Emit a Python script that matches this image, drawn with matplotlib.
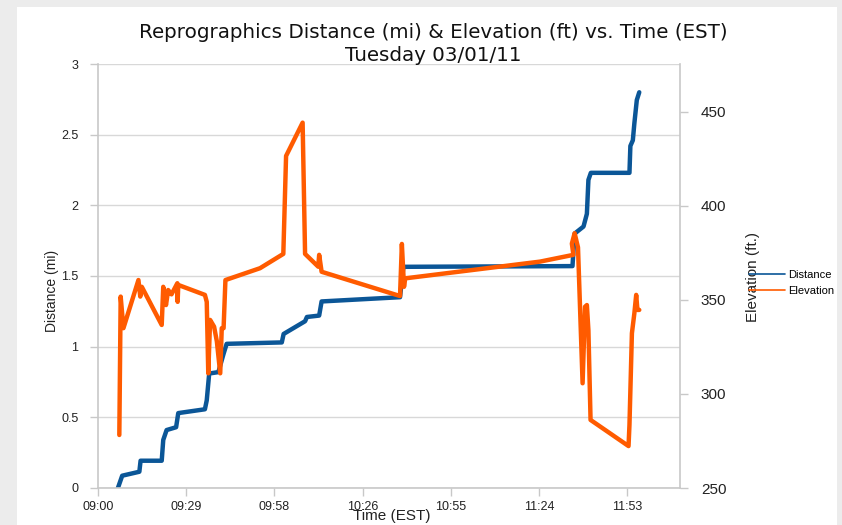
import matplotlib
matplotlib.use("Agg")
import matplotlib.pyplot as plt
from matplotlib.patches import Rectangle

plt.rcParams["font.family"] = ["Liberation Sans", "DejaVu Sans"]

# minutes after 09:00
dist_t = [6.5, 7.9, 13.5, 13.9, 20.8, 21.3, 22.4, 25.5, 26.2, 34.9, 35.5, 36.3, 39.3,
          41.0, 42.0, 60.0, 60.6, 67.6, 68.2, 72.2, 73.0, 98.6, 99.7, 154.9, 155.6,
          158.5, 159.6, 160.1, 160.9, 173.5, 173.8, 174.6, 175.1, 175.9, 176.7]
dist_mi = [0.0, 0.087, 0.115, 0.193, 0.193, 0.34, 0.41, 0.43, 0.53, 0.557, 0.62, 0.81, 0.82,
           0.95, 1.02, 1.03, 1.09, 1.18, 1.21, 1.22, 1.32, 1.35, 1.565, 1.57, 1.80,
           1.85, 1.94, 2.18, 2.23, 2.23, 2.42, 2.46, 2.58, 2.745, 2.80]

elev_t = [6.96, 7.4, 8.3, 13.2, 13.8, 14.3, 20.8, 21.3, 22.2, 22.9, 24.0, 25.9, 26.0, 26.2,
          34.9, 35.5, 36.0, 36.6, 37.9, 38.8, 39.9, 40.4, 41.0, 41.6, 52.9, 60.5, 61.4, 66.8,
          67.6, 71.9, 72.2, 73.0, 98.6, 99.2, 99.9, 100.3, 144.3, 155.2, 154.7, 155.6,
          156.4, 156.7, 158.2, 159.0, 159.6, 160.1, 160.8, 173.2, 173.5, 174.3, 175.1,
          175.7, 176.1, 176.7]
elev_ft = [278.2, 351.8, 335.0, 360.6, 351.8, 357.0, 336.7, 357.0, 347.3, 355.3, 353.0,
           358.9, 349.0, 358.0, 352.7, 349.0, 311.0, 339.4, 335.8, 328.0, 311.0, 335.0,
           335.0, 360.6, 366.9, 374.5, 426.6, 444.3, 374.5, 367.7, 374.0, 365.0, 352.1,
           379.8, 357.0, 361.5, 370.4, 374.0, 380.0, 385.5, 380.0, 378.0, 305.7, 346.4,
           347.3, 333.9, 286.2, 272.3, 283.5, 332.3, 342.9, 352.7, 344.7, 344.7]

tick_pos = [0, 28.8, 57.6, 86.4, 115.2, 144.0, 172.8]
tick_labels = ["09:00", "09:29", "09:58", "10:26", "10:55", "11:24", "11:53"]

BLUE = "#0B5697"
ORANGE = "#FF5B00"
GRID = "#d8d8d8"

W, H = 842, 525
fig = plt.figure(figsize=(W / 100, H / 100), dpi=100, facecolor="#ececec")
fig.patches.append(Rectangle((17 / W, 0), (837 - 17) / W, (H - 7) / H,
                             transform=fig.transFigure, facecolor="white",
                             edgecolor="none", zorder=-10))

ax = fig.add_axes([98 / W, 1 - 488 / H, (680 - 98) / W, (488 - 64) / H])
ax.patch.set_alpha(0)
ax2 = ax.twinx()

ax.plot(dist_t, dist_mi, color=BLUE, lw=3.2, solid_capstyle="round", label="Distance")
ax2.plot(elev_t, elev_ft, color=ORANGE, lw=3.2, solid_capstyle="round", label="Elevation")

ax.set_xlim(0, 190)
ax.set_ylim(0, 3)
ax.set_yticks([0, 0.5, 1, 1.5, 2, 2.5, 3])
ax.set_yticklabels(["0", "0.5", "1", "1.5", "2", "2.5", "3"])
ax2.set_ylim(250, 475.5)
ax2.set_yticks([250, 300, 350, 400, 450])
ax.set_xticks(tick_pos)
ax.set_xticklabels(tick_labels)

ax.grid(axis="y", color=GRID, lw=1)
ax.set_axisbelow(True)
for a in (ax, ax2):
    for s in a.spines.values():
        s.set_visible(False)
ax.spines["left"].set_visible(True)
ax.spines["bottom"].set_visible(True)
ax2.spines["right"].set_visible(True)
for s in (ax.spines["left"], ax.spines["bottom"], ax2.spines["right"]):
    s.set_color("#c8c8c8")
    s.set_linewidth(1.2)

ax.tick_params(axis="both", colors="#c8c8c8", labelcolor="#222222", labelsize=9,
               length=6, width=1)
ax.tick_params(axis="y", pad=8)
ax.tick_params(axis="x", pad=3)
ax2.tick_params(axis="y", colors="#c8c8c8", labelcolor="#222222", labelsize=11,
                length=6, width=1, pad=9)

fig.text(52 / W, 1 - 291 / H, "Distance (mi)", rotation=90, ha="center", va="center",
         fontsize=10, color="#222222")
fig.text(753 / W, 1 - 277 / H, "Elevation (ft.)", rotation=90, ha="center", va="center",
         fontsize=11, color="#222222")
fig.text(392 / W, 1 - 516 / H, "Time (EST)", ha="center", va="center",
         fontsize=11, color="#222222")
fig.text(433 / W, 1 - 37.5 / H, "Reprographics Distance (mi) & Elevation (ft) vs. Time (EST)",
         ha="center", va="baseline", fontsize=14.3, family="DejaVu Sans", color="#111111")
fig.text(433 / W, 1 - 61 / H, "Tuesday 03/01/11", ha="center", va="baseline",
         fontsize=14.3, family="DejaVu Sans", color="#111111")

handles = ax.get_lines() + ax2.get_lines()
fig.legend(handles, [h.get_label() for h in handles], loc="center left",
           bbox_to_anchor=(745 / W, 1 - 283 / H), frameon=False, fontsize=8,
           handlelength=3.2, handletextpad=0.3, labelspacing=0.5, borderaxespad=0)
for lh in fig.legends[0].get_lines():
    lh.set_linewidth(1.2)

fig.savefig("out.png", dpi=100, facecolor=fig.get_facecolor())
